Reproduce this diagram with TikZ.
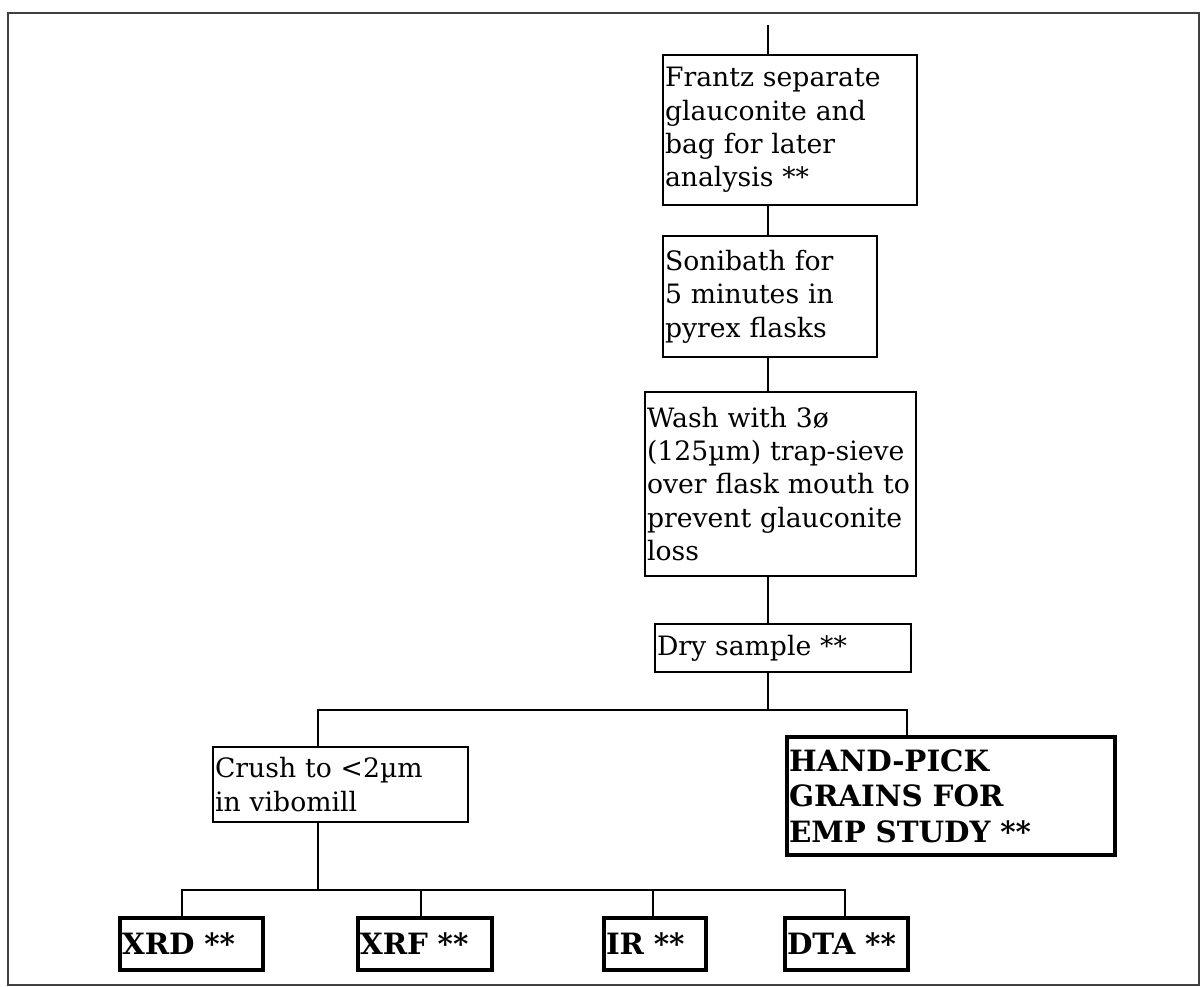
\documentclass[tikz,border=0pt]{standalone}
\usepackage{fontspec}
\setmainfont{DejaVu Serif}
\begin{document}
\begin{tikzpicture}[x=0.75pt,y=-0.75pt,
  box/.style={draw, line width=1.6pt, rectangle, align=left, inner xsep=1.5pt, inner ysep=0pt,
    font=\fontsize{20}{25}\selectfont},
  bbox/.style={box, line width=3.2pt, font=\bfseries\fontsize{22}{26.5}\selectfont},
  link/.style={line width=1.4pt},
  frame/.style={line width=1.5pt, draw=black!75}]
\useasboundingbox (0,0) rectangle (1201,987);
\draw[frame] (8,13) rectangle (1199,985);
% nodes
\node[box, text width=187.5pt, minimum width=190.5pt, minimum height=112.5pt] (b1) at (790,130)
  {Frantz separate\\glauconite and\\bag for later\\analysis **};
\node[box, text width=157.5pt, minimum width=160.5pt, minimum height=90.75pt] (b2) at (770,296.5)
  {Sonibath for\\5 minutes in\\pyrex flasks};
\node[box, text width=200.25pt, minimum width=203.25pt, minimum height=138pt] (b3) at (780.5,484)
  {Wash with 3ø\\(125µm) trap-sieve\\over flask mouth to\\prevent glauconite\\loss};
\node[box, text width=189pt, minimum width=192pt, minimum height=36pt] (b4) at (783,648)
  {Dry sample **};
\node[box, text width=188.25pt, minimum width=191.25pt, minimum height=56.25pt] (b5) at (340.5,784.5)
  {Crush to <2µm\\in vibomill};
\node[bbox, text width=243pt, minimum width=246pt, minimum height=88.5pt] (b6) at (951,796)
  {HAND-PICK\\GRAINS FOR\\EMP STUDY **};
\node[bbox, text width=104.25pt, minimum width=107.25pt, minimum height=39pt] (xrd) at (191.5,944) {XRD **};
\node[bbox, text width=97.5pt, minimum width=100.5pt, minimum height=39pt] (xrf) at (425,944) {XRF **};
\node[bbox, text width=73.5pt, minimum width=76.5pt, minimum height=39pt] (ir) at (655,944) {IR **};
\node[bbox, text width=89.25pt, minimum width=92.25pt, minimum height=39pt] (dta) at (846.5,944) {DTA **};
% connectors
\coordinate (top) at (768,25);
\coordinate (s1) at (768,710);
\coordinate (c5) at (318,710);
\coordinate (c6) at (907,710);
\coordinate (s2) at (318,890);
\coordinate (cxrd) at (182,890);
\coordinate (cxrf) at (421,890);
\coordinate (cir) at (653,890);
\coordinate (cdta) at (845,890);
\draw[link] (top) -- (top |- b1.north);
\draw[link] (b1.south -| top) -- (b2.north -| top);
\draw[link] (b2.south -| top) -- (b3.north -| top);
\draw[link] (b3.south -| top) -- (b4.north -| top);
\draw[link] (b4.south -| top) -- (s1);
\draw[link] (c5 |- b5.north) -- (c5) -- (c6) -- (c6 |- b6.north);
\draw[link] (b5.south -| s2) -- (s2);
\draw[link] (cxrd |- xrd.north) -- (cxrd) -- (cdta) -- (cdta |- dta.north);
\draw[link] (cxrf) -- (cxrf |- xrf.north);
\draw[link] (cir) -- (cir |- ir.north);
\end{tikzpicture}
\end{document}
